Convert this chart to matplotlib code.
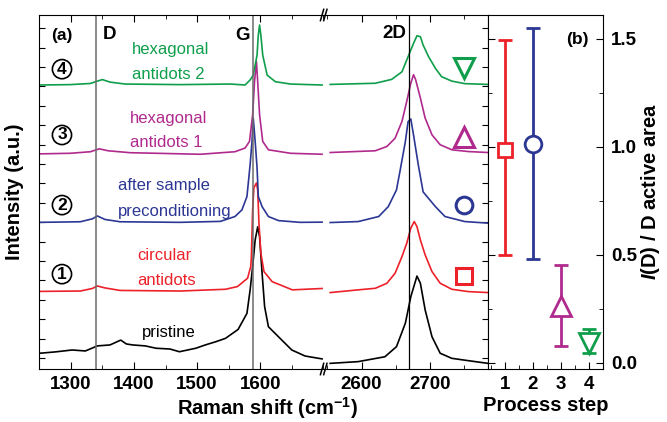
import numpy as np
import matplotlib
matplotlib.use("Agg")
import matplotlib.pyplot as plt
from matplotlib.ticker import MultipleLocator

plt.rcParams['font.family'] = ['Liberation Sans', 'DejaVu Sans']
plt.rcParams['font.weight'] = 'bold'
plt.rcParams['mathtext.fontset'] = 'custom'
plt.rcParams['mathtext.rm'] = 'Liberation Sans'
plt.rcParams['mathtext.bf'] = 'Liberation Sans:bold'
plt.rcParams['mathtext.bfit'] = 'Liberation Sans:bold:italic'

RED = '#ec2129'
BLUE = '#2c3794'
MAGENTA = '#b02a8e'
GREEN = '#0f9e4b'

# Raman spectra (shift in cm^-1, intensity in a.u. above own baseline)
pristine_shift = [1250, 1275, 1302, 1323, 1342, 1362, 1379, 1388, 1398, 1418, 1435, 1457, 1472,
                  1498, 1513, 1530, 1545, 1565, 1579, 1584, 1588, 1592, 1596, 1599, 1603, 1607,
                  1613, 1629, 1650, 1671, 1698,
                  2554, 2595, 2634, 2651, 2664, 2672, 2681, 2686, 2693, 2703, 2715, 2732, 2756, 2785]
pristine_int = [-0.03, 0.04, 0.14, 0.09, 0.35, 0.40, 0.65, 0.45, 0.40, 0.35, 0.23, 0.19, 0.05,
                0.23, 0.40, 0.57, 0.74, 1.20, 2.03, 3.23, 4.43, 5.81, 6.49, 5.98, 4.09, 2.37,
                1.34, 0.82, 0.14, -0.17, -0.32,
                -0.55, -0.46, -0.21, 0.31, 1.52, 2.89, 3.95, 3.58, 2.20, 0.82, -0.03, -0.29, -0.41, -0.55]

circular_shift = [1250, 1315, 1334, 1342, 1354, 1378, 1473, 1545, 1564, 1580, 1585, 1586, 1588,
                  1590, 1594, 1596, 1598, 1601, 1606, 1619, 1651, 1698,
                  2554, 2595, 2620, 2637, 2649, 2659, 2666, 2672, 2677, 2681, 2686, 2693, 2703,
                  2715, 2732, 2756, 2785]
circular_int = [-0.04, -0.02, 0.11, 0.24, 0.14, 0.01, -0.02, 0.07, 0.21, 0.64, 1.24, 1.75, 4.16,
                5.30, 5.55, 5.19, 3.49, 1.94, 0.98, 0.46, 0.04, 0.11,
                -0.10, 0.04, 0.12, 0.38, 0.90, 1.75, 2.44, 3.22, 3.56, 3.30, 2.61, 1.84, 0.98,
                0.38, 0.07, -0.05, -0.10]

precond_shift = [1250, 1315, 1334, 1342, 1354, 1378, 1473, 1537, 1560, 1571, 1579, 1584, 1587,
                 1589, 1592, 1595, 1597, 1603, 1613, 1629, 1663, 1698,
                 2554, 2595, 2625, 2639, 2651, 2656, 2664, 2668, 2672, 2676, 2683, 2690, 2708,
                 2722, 2751, 2785]
precond_int = [-0.01, 0.02, 0.17, 0.32, 0.14, 0.02, -0.01, 0.04, 0.29, 0.63, 1.32, 2.96, 4.16,
               5.36, 4.16, 2.81, 1.32, 0.80, 0.29, 0.08, -0.01, 0.0,
               -0.02, 0.03, 0.29, 0.80, 1.66, 2.60, 4.15, 5.18, 5.32, 4.49, 2.94, 1.56, 0.80,
               0.29, 0.03, -0.05]

hex1_shift = [1250, 1299, 1331, 1345, 1359, 1394, 1505, 1560, 1576, 1583, 1588, 1591, 1594,
              1596, 1599, 1604, 1613, 1648, 1698,
              2554, 2620, 2637, 2649, 2659, 2666, 2672, 2676, 2679, 2686, 2693, 2703, 2715,
              2732, 2756, 2785]
hex1_int = [-0.04, -0.01, 0.07, 0.22, 0.12, 0.02, -0.06, 0.07, 0.26, 0.60, 1.97, 3.69, 4.72,
            3.69, 1.97, 0.60, 0.17, -0.01, -0.06,
            0.03, 0.12, 0.34, 0.77, 1.63, 2.66, 3.61, 4.04, 3.79, 2.84, 1.80, 0.94, 0.43,
            0.17, 0.08, 0.03]

hex2_shift = [1250, 1299, 1331, 1342, 1350, 1362, 1386, 1473, 1553, 1576, 1584, 1589, 1595,
              1597, 1599, 1601, 1604, 1611, 1624, 1648, 1698,
              2554, 2620, 2644, 2659, 2668, 2676, 2681, 2686, 2690, 2698, 2708, 2717, 2732,
              2751, 2785]
hex2_int = [-0.05, -0.03, 0.03, 0.15, 0.23, 0.10, 0.0, -0.03, 0.0, -0.05, 0.21, 0.46, 1.49,
            2.53, 3.04, 2.53, 1.49, 0.46, 0.12, 0.0, -0.05,
            -0.02, 0.04, 0.24, 0.63, 1.41, 2.10, 2.49, 2.44, 2.01, 1.41, 0.81, 0.38, 0.15,
            0.02, -0.02]

spectra = [
    (pristine_shift, pristine_int, 'k', 0.27),
    (circular_shift, circular_int, RED, 3.47),
    (precond_shift, precond_int, BLUE, 7.0),
    (hex1_shift, hex1_int, MAGENTA, 10.56),
    (hex2_shift, hex2_int, GREEN, 14.12),
]

# I(D) ratio vs process step
steps = [1, 2, 3, 4]
ratio = [0.985, 1.01, 0.264, 0.09]
err_low = [0.485, 0.53, 0.187, 0.044]
err_high = [0.51, 0.54, 0.186, 0.065]
step_colors = [RED, BLUE, MAGENTA, GREEN]
step_markers = ['s', 'o', '^', 'v']
step_sizes = [10, 12, 14, 14]

fig = plt.figure(figsize=(6.67, 4.22), dpi=100)
ax1 = fig.add_axes([0.0589, 0.1256, 0.4268, 0.8389])
ax2 = fig.add_axes([0.4858, 0.1256, 0.2459, 0.8389])
ax3 = fig.add_axes([0.7316, 0.1256, 0.1724, 0.8389])

for shift, inten, col, off in spectra:
    s = np.array(shift)
    y = np.array(inten) + off
    lo = s < 2000
    ax1.plot(s[lo], y[lo], color=col, lw=1.2)
    ax2.plot(s[~lo], y[~lo], color=col, lw=1.2)

ax1.axvline(1340, color='#6b6b6b', lw=1.1)
ax1.axvline(1589, color='#6b6b6b', lw=1.1)
ax2.axvline(2670, color='k', lw=0.9)

ax1.set_xlim(1250, 1701)
ax2.set_xlim(2545, 2785)
for ax in (ax1, ax2):
    ax.set_ylim(-0.57, 17.68)
    ax.xaxis.set_major_locator(MultipleLocator(100))
    ax.xaxis.set_minor_locator(MultipleLocator(50))
    ax.yaxis.set_major_locator(MultipleLocator(1))
    ax.tick_params(axis='x', which='both', direction='in', top=True, bottom=True,
                   labelsize=13.5, pad=5)
    ax.tick_params(axis='x', which='major', length=5)
    ax.tick_params(axis='x', which='minor', length=3)
    ax.set_yticklabels([])
ax1.tick_params(axis='y', direction='in', left=True, right=False, length=4)
ax2.tick_params(axis='y', direction='in', left=False, right=True, length=4)
ax1.spines['right'].set_visible(False)
ax2.spines['left'].set_visible(False)
ax1.set_xticks([1300, 1400, 1500, 1600])
ax2.set_xticks([2600, 2700])

# break marks
for yb in (0, 1):
    for dx in (-0.014, 0.006):
        ax2.plot([dx - 0.008, dx + 0.012], [yb - 0.016, yb + 0.016], transform=ax2.transAxes,
                 color='k', lw=1.1, clip_on=False)

# spectrum labels
lab_kw = dict(transform=ax1.transAxes, fontsize=12, fontweight='normal', va='baseline', ha='left')
ax1.text(0.3256, 0.889, 'hexagonal', color=GREEN, **lab_kw)
ax1.text(0.3256, 0.819, 'antidots 2', color=GREEN, **lab_kw)
ax1.text(0.3186, 0.694, 'hexagonal', color=MAGENTA, **lab_kw)
ax1.text(0.3186, 0.628, 'antidots 1', color=MAGENTA, **lab_kw)
ax1.text(0.2764, 0.5056, 'after sample', color=BLUE, **lab_kw)
ax1.text(0.2764, 0.432, 'preconditioning', color=BLUE, **lab_kw)
ax1.text(0.3432, 0.308, 'circular', color=RED, **lab_kw)
ax1.text(0.3432, 0.236, 'antidots', color=RED, **lab_kw)
ax1.text(0.3607, 0.0912, 'pristine', color='k', **lab_kw)

for num, yy in zip(['4', '3', '2', '1'], [0.847, 0.661, 0.463, 0.268]):
    ax1.text(0.0797, yy, num, transform=ax1.transAxes, fontsize=12.5, ha='center', va='center',
             bbox=dict(boxstyle='circle,pad=0.12', fc='none', ec='k', lw=1.2))

ax1.text(0.0797, 0.9407, '(a)', transform=ax1.transAxes, fontsize=12.5, ha='center', va='center')
ax1.text(0.2449, 0.9435, 'D', transform=ax1.transAxes, fontsize=13.5, ha='center', va='center')
ax1.text(0.7155, 0.9407, 'G', transform=ax1.transAxes, fontsize=13.5, ha='center', va='center')
ax2.text(0.427, 0.948, '2D', transform=ax2.transAxes, fontsize=13.5, ha='center', va='center')

# step markers beside spectra
for mk, col, ms, yy in zip(['v', '^', 'o', 's'], [GREEN, MAGENTA, BLUE, RED],
                           [15, 15, 12, 11], [0.849, 0.656, 0.463, 0.264]):
    ax2.plot([0.854], [yy], marker=mk, ms=ms, mfc='none', mec=col, mew=2.2,
             transform=ax2.transAxes, clip_on=False)

# panel (b)
for x, y, lo, hi, col, mk, ms in zip(steps, ratio, err_low, err_high, step_colors,
                                     step_markers, step_sizes):
    ax3.errorbar([x], [y], yerr=[[lo], [hi]], fmt=mk, ms=ms, mfc='white', mec=col, mew=2,
                 ecolor=col, elinewidth=2, capsize=5, capthick=1.8, zorder=3)
ax3.set_xlim(0.4, 4.5)
ax3.set_ylim(-0.03, 1.61)
ax3.xaxis.set_major_locator(MultipleLocator(1))
ax3.xaxis.set_minor_locator(MultipleLocator(0.5))
ax3.yaxis.set_major_locator(MultipleLocator(0.5))
ax3.yaxis.set_minor_locator(MultipleLocator(0.25))
ax3.tick_params(axis='both', which='both', direction='in', labelsize=13.5)
ax3.tick_params(axis='y', which='both', left=True, right=True, labelleft=False, labelright=True, pad=6)
ax3.tick_params(axis='x', which='both', top=False, bottom=True, pad=5)
ax3.tick_params(which='major', length=5)
ax3.tick_params(which='minor', length=3)
ax3.yaxis.set_major_formatter(matplotlib.ticker.FormatStrFormatter('%.1f'))
ax3.text(0.774, 0.932, '(b)', transform=ax3.transAxes, fontsize=12.5, ha='center', va='center')
ax3.set_xlabel('Process step', fontsize=14.5, fontweight='bold', labelpad=2)

fig.text(268 / 667, 1 - 408 / 422, r'Raman shift (cm$^{\mathrm{-1}}$)', fontsize=14.5,
         ha='center', va='center')
fig.text(15 / 667, 1 - 192 / 422, 'Intensity (a.u.)', fontsize=14.5, rotation=90,
         ha='center', va='center')
fig.text(651 / 667, 1 - 192 / 422, r'$\bfit{I}$(D) / D active area', fontsize=14.5, rotation=90,
         ha='center', va='center')

fig.savefig('out.png', dpi=100)
